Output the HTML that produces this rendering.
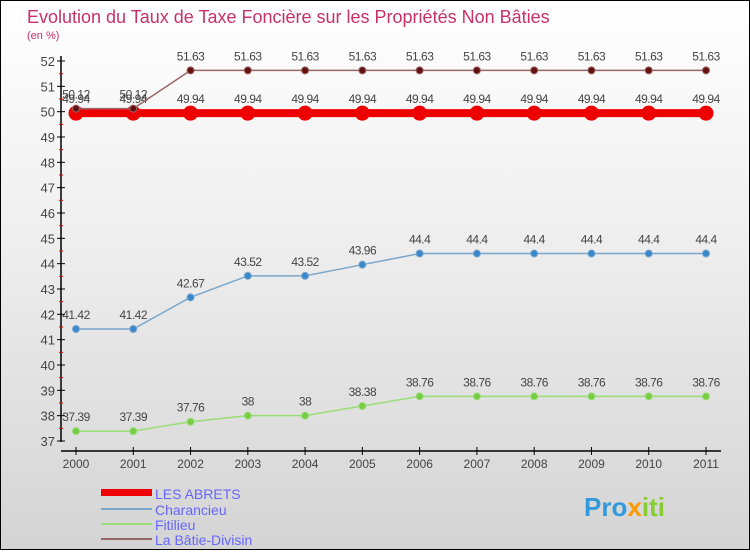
<!DOCTYPE html>
<html><head><meta charset="utf-8"><style>
body{margin:0;width:750px;height:550px;overflow:hidden;font-family:"Liberation Sans",sans-serif}
#wrap{position:relative;width:748px;height:548px;border:1px solid #000;background:linear-gradient(#ffffff 0%,#f0f0f0 40%,#d4d4d4 100%)}
</style></head><body>
<div id="wrap">
<svg id="c" width="748" height="548" xmlns="http://www.w3.org/2000/svg">
<text x="26" y="22" font-size="18" fill="#c8306a">Evolution du Taux de Taxe Foncière sur les Propriétés Non Bâties</text>
<text x="26" y="38" font-size="11" fill="#c8306a">(en %)</text>
<g id="axes"></g><g id="series"></g>
<g>
<rect x="100" y="488" width="51" height="7" fill="#e00"/>
<text x="154" y="498" font-size="14" fill="#6666ff">LES ABRETS</text>
<line x1="100" y1="508" x2="151" y2="508" stroke="#7aa7cc" stroke-width="2"/>
<text x="154" y="514" font-size="14" fill="#6666ff">Charancieu</text>
<line x1="100" y1="523" x2="151" y2="523" stroke="#99dd77" stroke-width="2"/>
<text x="154" y="529" font-size="14" fill="#6666ff">Fitilieu</text>
<line x1="100" y1="538" x2="151" y2="538" stroke="#996666" stroke-width="2"/>
<text x="154" y="544" font-size="14" fill="#6666ff">La Bâtie-Divisin</text>
</g>
<text x="583" y="515" font-size="26" font-weight="bold" fill="#3399dd">Pro<tspan fill="#ff9900">x</tspan><tspan fill="#88cc33">iti</tspan></text>
</svg>
</div>
<script>
const years=[2000,2001,2002,2003,2004,2005,2006,2007,2008,2009,2010,2011];
const yTicks=[37,38,39,40,41,42,43,44,45,46,47,48,49,50,51,52];
const abrets=[49.94,49.94,49.94,49.94,49.94,49.94,49.94,49.94,49.94,49.94,49.94,49.94];
const charancieu=[41.42,41.42,42.67,43.52,43.52,43.96,44.4,44.4,44.4,44.4,44.4,44.4];
const fitilieu=[37.39,37.39,37.76,38,38,38.38,38.76,38.76,38.76,38.76,38.76,38.76];
const batie=[50.12,50.12,51.63,51.63,51.63,51.63,51.63,51.63,51.63,51.63,51.63,51.63];
const NS="http://www.w3.org/2000/svg";
const X=i=>75+i*(630/11);
const Y=v=>440-(v-37)*(380/15);
function mk(tag,attrs,parent){const e=document.createElementNS(NS,tag);for(const k in attrs)e.setAttribute(k,attrs[k]);parent.appendChild(e);return e;}
const ax=document.getElementById('axes');
let l=mk('line',{x1:60,y1:55,x2:60,y2:441,stroke:'#000','stroke-width':1.5},ax);


l=mk('line',{x1:60,y1:450,x2:720,y2:450,stroke:'#000','stroke-width':1.5},ax);


yTicks.forEach(v=>{
 mk('line',{x1:56,y1:Y(v),x2:64,y2:Y(v),stroke:'#000'},ax);
 if(v<52)mk('line',{x1:58,y1:Y(v+0.5),x2:62,y2:Y(v+0.5),stroke:'#e00'},ax);
 const t=mk('text',{x:54,y:Y(v)+5,'font-size':13,fill:'#444','text-anchor':'end'},ax);t.textContent=v;
 
 
});
years.forEach((y,i)=>{
 mk('line',{x1:X(i),y1:446,x2:X(i),y2:454,stroke:'#000'},ax);
 const t=mk('text',{x:X(i),y:467,'font-size':12,fill:'#444','text-anchor':'middle'},ax);t.textContent=y;
 
 
});
const sg=document.getElementById('series');
function series(name,vals,color,w,r,dot){
 const g=mk('g',{},sg);
 
 
 const p=mk('polyline',{points:vals.map((v,i)=>X(i)+','+Y(v)).join(' '),fill:'none',stroke:color,'stroke-width':w},g);
 
 
 vals.forEach((v,i)=>{
  const c=mk('circle',{cx:X(i),cy:Y(v),r:r,fill:dot,stroke:color,'stroke-width':1},g);
  
  
  const t=mk('text',{x:X(i),y:Y(v)-10,'font-size':12,fill:'#444','text-anchor':'middle','letter-spacing':'-0.5'},g);t.textContent=v;
  
  
 });
}
series('charancieu',charancieu,'#7aa7cc',1.5,3.5,'#3a88cc');
series('fitilieu',fitilieu,'#99dd77',1.5,3.5,'#77cc44');
series('les-abrets',abrets,'#ee0000',8,7,'#ee0000');
series('la-batie-divisin',batie,'#996666',1.5,3.5,'#661111');
</script>
</body></html>
